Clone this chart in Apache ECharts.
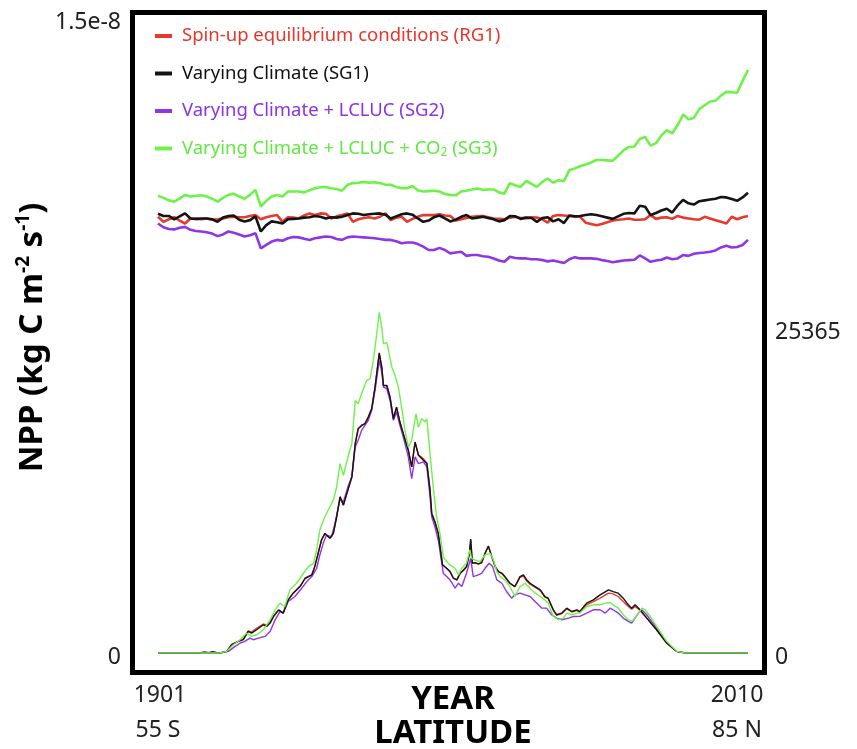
<!DOCTYPE html>
<html><head><meta charset="utf-8">
<script src="https://cdn.jsdelivr.net/npm/echarts@6/dist/echarts.min.js"></script>
<style>html,body{margin:0;padding:0;background:#fff}#c{width:857px;height:749px}</style>
</head><body><div id="c"></div>
<script>
const FONT = 'Noto Sans';
const names = ['Spin-up equilibrium conditions (RG1)','Varying Climate (SG1)','Varying Climate + LCLUC (SG2)','Varying Climate + LCLUC + CO2 (SG3)'];
const colors = ['#e63a2e','#141414','#8f36e3','#6ef24a'];
const textColors = ['#e8352b','#111111','#8c33e0','#62e840'];

// Time series, NPP in units of 1e-9 kg C m-2 s-1, 1901..2010
const years = Array.from({length:110},(_,i)=>1901+i);
const yearTicks = [1901, 2010];
const rg1Year = [10.37,10.25,10.31,10.36,10.28,10.21,10.33,10.32,10.31,10.33,
10.30,10.31,10.33,10.36,10.37,10.36,10.36,10.39,10.41,10.31,
10.36,10.39,10.41,10.25,10.36,10.35,10.33,10.40,10.45,10.41,
10.45,10.44,10.33,10.38,10.41,10.45,10.25,10.31,10.34,10.36,
10.33,10.37,10.45,10.29,10.35,10.37,10.25,10.32,10.37,10.41,
10.41,10.41,10.43,10.40,10.39,10.28,10.31,10.34,10.37,10.38,
10.39,10.36,10.33,10.32,10.31,10.35,10.37,10.34,10.34,10.36,
10.35,10.31,10.23,10.39,10.41,10.40,10.39,10.38,10.37,10.23,
10.20,10.17,10.20,10.24,10.28,10.30,10.31,10.33,10.30,10.30,
10.31,10.41,10.32,10.35,10.36,10.32,10.39,10.35,10.33,10.31,
10.30,10.37,10.33,10.29,10.25,10.21,10.37,10.31,10.36,10.39];
const sg1Year = [10.44,10.39,10.39,10.31,10.38,10.45,10.33,10.32,10.33,10.33,
10.31,10.25,10.35,10.39,10.40,10.30,10.26,10.29,10.38,10.02,
10.17,10.26,10.24,10.21,10.31,10.32,10.33,10.35,10.36,10.39,
10.37,10.33,10.36,10.35,10.37,10.41,10.45,10.44,10.41,10.43,
10.44,10.45,10.42,10.33,10.38,10.43,10.45,10.42,10.33,10.25,
10.28,10.36,10.40,10.33,10.26,10.30,10.37,10.41,10.33,10.35,
10.37,10.34,10.31,10.26,10.29,10.39,10.38,10.32,10.35,10.34,
10.25,10.34,10.36,10.26,10.31,10.22,10.40,10.38,10.39,10.41,
10.43,10.41,10.38,10.35,10.32,10.38,10.44,10.46,10.45,10.63,
10.61,10.41,10.46,10.52,10.56,10.47,10.64,10.77,10.69,10.66,
10.74,10.76,10.78,10.80,10.84,10.83,10.79,10.75,10.83,10.94];
const sg2Year = [10.21,10.12,10.08,10.07,10.11,10.13,10.06,10.03,10.02,10.00,
9.97,9.91,9.95,10.02,9.99,9.95,9.90,9.93,9.98,9.62,
9.70,9.78,9.82,9.80,9.86,9.89,9.88,9.85,9.82,9.86,
9.88,9.90,9.89,9.84,9.82,9.88,9.90,9.89,9.88,9.87,
9.86,9.84,9.82,9.82,9.79,9.74,9.76,9.76,9.72,9.66,
9.58,9.58,9.63,9.58,9.50,9.52,9.54,9.44,9.46,9.46,
9.43,9.42,9.38,9.33,9.30,9.42,9.39,9.38,9.38,9.36,
9.36,9.34,9.31,9.33,9.30,9.27,9.36,9.41,9.38,9.38,
9.38,9.37,9.34,9.32,9.29,9.31,9.33,9.34,9.35,9.45,
9.38,9.30,9.33,9.35,9.40,9.36,9.38,9.46,9.44,9.49,
9.51,9.52,9.54,9.57,9.64,9.68,9.64,9.65,9.70,9.82];
const sg3Year = [10.87,10.82,10.76,10.73,10.80,10.89,10.85,10.87,10.88,10.85,
10.80,10.73,10.82,10.89,10.92,10.85,10.80,10.89,11.01,10.61,
10.75,10.85,10.89,10.85,10.97,10.97,10.97,10.95,11.00,11.05,
11.07,11.08,11.05,11.03,10.99,11.13,11.17,11.18,11.20,11.18,
11.19,11.17,11.13,11.13,11.08,11.05,11.05,11.10,11.00,10.97,
10.98,10.99,10.97,10.91,10.89,10.88,10.97,10.99,11.02,11.04,
11.01,11.02,11.02,10.95,10.92,11.17,11.12,11.08,11.22,11.15,
11.08,11.20,11.28,11.18,11.24,11.22,11.48,11.52,11.57,11.61,
11.66,11.72,11.72,11.71,11.70,11.82,11.95,12.03,12.04,12.22,
12.27,12.06,12.12,12.30,12.43,12.35,12.55,12.80,12.69,12.72,
12.93,13.02,13.11,13.13,13.25,13.34,13.33,13.32,13.60,13.86];
const nppTicks = [0, 1.5e-8];

// Latitude profiles: [latitude (deg, S negative), value]
const latTicks = [-55, 85];
const rightTicks = [0, 25365];
const rightMax = 50000;
const rg1Lat = [[-55,0],[-40.3,0],[-38.7,140],[-37.5,680],[-35.9,950],[-34.75,1100],[-33.6,1750],[-32.8,1650],[-31.6,1950],[-30.0,2300],[-29.2,2200],[-28.4,2420],[-27.6,2900],[-26.4,3400],[-25.3,3180],[-24.1,4200],[-22.9,4760],[-21.3,5280],[-20.1,5900],[-19.3,6070],[-18.5,6200],[-17.8,6860],[-17.0,7900],[-16.2,8960],[-15.4,9470],[-14.2,9100],[-13.4,9470],[-12.6,10800],[-11.8,12370],[-11.0,11720],[-10.2,12640],[-9.0,13950],[-8.2,16580],[-7.5,17760],[-6.7,18030],[-5.9,18160],[-5.1,18690],[-4.3,19340],[-3.5,21050],[-2.5,23700],[-1.9,22640],[-1.5,21190],[-0.7,21190],[0.06,20270],[0.85,18560],[1.6,19480],[2.4,18300],[3.2,17380],[4.4,16060],[5.2,14760],[6.0,16700],[6.8,15700],[7.97,15400],[8.8,15050],[9.55,12900],[9.95,11060],[10.7,10400],[11.5,9480],[12.5,7000],[13.5,6700],[14.3,6440],[15.1,5920],[15.9,5790],[16.7,6300],[17.5,6560],[18.2,6830],[18.9,7850],[19.2,8950],[19.6,7100],[20.2,7150],[21.0,7040],[21.8,7150],[22.6,7880],[23.4,8450],[23.8,8350],[24.2,7620],[25.0,6830],[25.8,6440],[26.6,6300],[27.3,6040],[28.5,5520],[29.7,5250],[30.9,6000],[31.7,6100],[32.5,5700],[33.3,5450],[34.5,5200],[35.7,4950],[36.8,4430],[37.6,4300],[38.8,3380],[39.6,2990],[40.8,3120],[42.0,3500],[43.2,3250],[44.4,3380],[45.1,3213],[46.7,3818],[48.3,4080],[49.9,4345],[51.9,4740],[53.0,4687],[54.2,4477],[55.4,4082],[56.6,3687],[57.4,3476],[58.2,3687],[59.4,3371],[61.0,2740],[63.3,1830],[65.7,780],[68.1,120],[70.1,0],[85,0]];
const sg1Lat = [[-55,0],[-45,0],[-44,90],[-43,30],[-42,110],[-41,20],[-40.3,0],[-38.7,131],[-37.5,658],[-35.9,921],[-34.75,1053],[-33.6,1711],[-32.8,1579],[-31.6,1843],[-30.0,2237],[-29.2,2105],[-28.4,2369],[-27.6,2895],[-26.4,3422],[-25.3,3159],[-24.1,4212],[-22.9,4739],[-21.3,5265],[-20.1,5923],[-19.3,6055],[-18.5,6187],[-17.8,6845],[-17.0,7898],[-16.2,8951],[-15.4,9478],[-14.2,9085],[-13.4,9480],[-12.6,10796],[-11.8,12376],[-11.0,11718],[-10.2,12639],[-9.0,13955],[-8.2,16588],[-7.5,17773],[-6.7,18036],[-5.9,18169],[-5.1,18695],[-4.3,19353],[-3.5,21064],[-2.5,23777],[-1.9,22645],[-1.5,21196],[-0.7,21196],[0.06,20275],[0.85,18563],[1.6,19485],[2.4,18300],[3.2,17379],[4.4,16062],[5.2,14746],[6.0,16720],[6.8,15667],[7.97,15273],[8.8,15010],[9.55,12903],[9.95,11060],[10.7,10402],[11.5,9480],[12.5,7000],[13.5,6714],[14.3,6451],[15.1,5924],[15.9,5792],[16.7,6319],[17.5,6583],[18.2,6846],[18.9,7899],[19.2,9031],[19.6,7109],[20.2,7162],[21.0,7056],[21.8,7162],[22.6,7899],[23.4,8478],[23.8,8373],[24.2,7636],[25.0,6846],[25.8,6451],[26.6,6319],[27.3,6056],[28.5,5529],[29.7,5266],[30.9,6056],[31.7,6187],[32.5,5792],[33.3,5529],[34.5,5266],[35.7,5002],[36.8,4476],[37.6,4344],[38.8,3423],[39.6,3028],[40.8,3160],[42.0,3555],[43.2,3291],[44.4,3423],[45.1,3286],[46.7,3950],[48.3,4211],[49.9,4606],[51.9,5000],[53.0,4866],[54.2,4740],[55.4,4345],[56.6,3816],[57.4,3555],[58.2,3816],[59.4,3421],[61.0,2765],[63.3,1841],[65.7,790],[68.1,126],[70.1,0],[85,0]];
const sg2Lat = [[-55,0],[-40.3,0],[-38.3,131],[-36.7,526],[-35.5,790],[-34.4,921],[-33.2,1184],[-32.4,1053],[-31.2,1184],[-29.6,1316],[-28.4,1711],[-27.2,2632],[-26.05,3291],[-25.3,3159],[-24.1,4080],[-22.5,4475],[-20.9,5133],[-19.7,5660],[-18.5,6055],[-17.35,6713],[-16.6,7766],[-15.8,8688],[-15.0,9346],[-13.8,9215],[-13.0,10268],[-12.2,11584],[-11.8,12200],[-11.0,11981],[-9.8,13297],[-9.0,13955],[-8.2,16325],[-7.5,16852],[-6.7,17642],[-5.9,18036],[-5.1,18432],[-4.3,19222],[-3.5,20802],[-2.5,23172],[-1.9,22250],[-1.5,21065],[-0.7,20933],[0.06,20012],[0.85,18432],[1.6,19090],[2.4,18037],[3.2,17116],[4.4,15536],[5.2,13824],[6.0,15536],[6.8,15010],[7.97,15141],[8.8,14746],[9.55,12376],[9.95,10796],[10.7,10006],[11.5,8953],[12.7,6321],[13.5,6058],[14.3,5792],[15.5,5134],[16.3,5529],[17.1,5266],[18.2,6319],[19.2,7504],[19.8,6056],[21.0,6187],[21.8,6319],[22.6,6714],[23.6,7109],[24.4,6846],[25.4,5792],[26.6,5529],[27.7,4871],[28.9,4344],[29.7,4607],[30.9,4739],[32.1,4607],[33.3,4476],[34.9,3950],[36.1,3555],[37.2,3555],[38.4,3028],[39.6,2765],[40.8,2633],[42.4,2765],[43.6,2897],[45.1,2900],[46.7,3160],[48.3,3424],[49.9,3424],[51.1,3160],[52.3,3555],[53.0,3424],[54.2,3160],[55.4,2765],[56.6,2502],[57.4,2370],[58.2,2765],[59.0,3160],[59.8,3424],[60.96,3029],[63.3,1975],[65.7,790],[68.1,132],[70.1,0],[85,0]];
const sg3Lat = [[-55,0],[-40.3,0],[-38.7,131],[-37.1,658],[-35.5,1053],[-34.0,1579],[-32.8,1316],[-31.6,1448],[-30.0,1843],[-28.4,2632],[-27.2,3422],[-26.05,3949],[-24.9,3686],[-23.7,5002],[-22.1,5528],[-20.5,6318],[-19.3,6845],[-18.1,7108],[-17.35,8161],[-16.6,9741],[-15.4,10795],[-14.2,11586],[-13.4,12113],[-12.6,13166],[-11.8,15009],[-11.0,14087],[-9.8,15667],[-9.0,16589],[-8.2,20012],[-7.5,19749],[-6.7,20539],[-5.5,21592],[-4.7,21724],[-3.9,23172],[-3.1,25278],[-2.5,26990],[-1.9,25805],[-1.5,24488],[-0.7,24620],[0.5,22645],[1.25,21987],[2.05,21065],[2.8,19485],[3.6,17642],[4.4,16326],[5.2,16852],[6.2,18958],[6.8,17906],[7.6,18563],[8.4,18300],[8.8,18563],[9.55,15798],[10.3,13166],[11.1,10796],[11.9,9480],[12.7,7637],[13.5,7241],[14.3,6977],[15.5,6714],[16.3,6187],[17.1,6714],[18.2,7109],[19.0,8162],[19.4,7504],[20.2,7372],[21.4,7241],[22.6,7767],[23.8,7899],[24.6,7372],[25.4,6451],[26.2,6056],[27.3,5792],[28.5,5266],[29.7,4476],[30.9,5266],[32.1,5529],[33.3,5134],[34.5,4739],[35.7,4476],[36.8,4213],[37.6,3950],[38.8,2897],[40.0,2633],[41.2,2765],[42.0,3160],[43.2,3028],[44.4,3160],[45.1,3160],[46.7,3687],[48.3,3818],[49.9,3818],[51.1,3950],[52.3,4003],[53.0,3818],[54.2,3555],[55.4,3029],[56.6,2634],[57.4,2502],[58.2,2765],[59.0,3160],[59.8,3555],[60.6,3424],[61.8,2897],[63.3,2107],[65.7,922],[68.1,132],[70.1,0],[85,0]];

const yearSeries = [rg1Year, sg1Year, sg2Year, sg3Year];
const latSeries = [rg1Lat, sg1Lat, sg2Lat, sg3Lat];
const zYear = [2, 5, 3, 4];
const zLat = [2, 4, 3, 5];

const series = [];
yearSeries.forEach((vals, k) => {
  series.push({
    name: names[k], type: 'line', xAxisIndex: 0, yAxisIndex: 0,
    data: vals.map((v, i) => [years[i], v * 1e-9]),
    symbol: 'none', z: zYear[k],
    lineStyle: {color: colors[k], width: 2.6},
    itemStyle: {color: colors[k]}
  });
});
latSeries.forEach((pts, k) => {
  series.push({
    name: names[k], type: 'line', xAxisIndex: 1, yAxisIndex: 1,
    data: pts, symbol: 'none', z: zLat[k],
    lineStyle: {color: colors[k], width: 1.4},
    itemStyle: {color: colors[k]}
  });
});

const TICK = 23, TC = '#222';
const subStyle = c => ({fontSize: 12, color: c, verticalAlign: 'bottom', lineHeight: 12, padding: [7,0,0,0], fontFamily: FONT});
const tickRich = {
  l: {fontSize: TICK, color: TC, fontFamily: FONT, padding: [0,0,0,4]},
  r: {fontSize: TICK, color: TC, fontFamily: FONT, padding: [0,22,0,0]},
  z: {fontSize: TICK, color: TC, fontFamily: FONT, padding: [9,0,0,0]},
  n: {fontSize: TICK, color: TC, fontFamily: FONT}
};
const option = {
  animation: false,
  backgroundColor: '#fff',
  textStyle: {fontFamily: FONT},
  grid: {left: 158, right: 109, top: 22, bottom: 96, containLabel: false, outerBoundsMode: 'none'},
  graphic: [{
    type: 'rect', z: 10, silent: true,
    shape: {x: 132.5, y: 12.5, width: 632, height: 660},
    style: {fill: 'none', stroke: '#000', lineWidth: 5}
  }],
  legend: {
    orient: 'vertical', left: 150, top: 21, icon: 'rect',
    itemWidth: 17, itemHeight: 4, itemGap: 17.5,
    selectedMode: false,
    textStyle: {fontSize: 18.5, lineHeight: 20, fontFamily: FONT, padding: [0,0,0,5], rich: {sub: subStyle('#000')}},
    formatter: n => n === names[3] ? 'Varying Climate + LCLUC + CO{sub|2} (SG3)' : n,
    data: names.map((n, k) => ({name: n, textStyle: {color: textColors[k], rich: {sub: subStyle(textColors[k])}}}))
  },
  xAxis: [{
    type: 'value', min: yearTicks[0], max: yearTicks[1], interval: yearTicks[1] - yearTicks[0],
    position: 'bottom',
    axisLine: {show: false}, axisTick: {show: false}, splitLine: {show: false},
    axisLabel: {margin: 31, fontSize: TICK, color: TC, fontFamily: FONT,
      formatter: v => v === yearTicks[1] ? '{r|' + v + '}' : '{l|' + v + '}', rich: tickRich},
    name: 'YEAR', nameLocation: 'middle', nameGap: 30, nameMoveOverlap: false,
    nameTextStyle: {fontSize: 33, fontWeight: 'bold', color: '#000', fontFamily: FONT}
  }, {
    type: 'value', min: latTicks[0], max: latTicks[1], interval: latTicks[1] - latTicks[0],
    position: 'bottom',
    axisLine: {show: false}, axisTick: {show: false}, splitLine: {show: false},
    axisLabel: {margin: 66, fontSize: TICK, color: TC, fontFamily: FONT,
      formatter: v => v < 0 ? '{n|' + (-v) + ' S}' : '{r|' + v + ' N}', rich: tickRich},
    name: 'LATITUDE', nameLocation: 'middle', nameGap: 64, nameMoveOverlap: false,
    nameTextStyle: {fontSize: 33, fontWeight: 'bold', color: '#000', fontFamily: FONT}
  }],
  yAxis: [{
    type: 'value', min: nppTicks[0], max: nppTicks[1], interval: nppTicks[1] - nppTicks[0],
    position: 'left',
    axisLine: {show: false}, axisTick: {show: false}, splitLine: {show: false},
    axisLabel: {margin: 37, fontSize: TICK, color: TC, fontFamily: FONT,
      formatter: v => v === 0 ? '{z|0}' : '{n|1.5e-8}', rich: tickRich},
    name: '{a|NPP (kg C m}{s|-2}{a| s}{s|-1}{a|)}', nameLocation: 'middle', nameRotate: 90, nameGap: 106, nameMoveOverlap: false,
    nameTextStyle: {fontFamily: FONT, color: '#000',
      rich: {a: {fontSize: 33, fontWeight: 'bold', color: '#000', lineHeight: 38, fontFamily: FONT},
             s: {fontSize: 19, fontWeight: 'bold', color: '#000', lineHeight: 38, verticalAlign: 'top', padding: [0,0,14,0], fontFamily: FONT}}}
  }, {
    type: 'value', min: rightTicks[0], max: rightMax, interval: rightTicks[1],
    position: 'right',
    axisLine: {show: false}, axisTick: {show: false}, splitLine: {show: false},
    axisLabel: {margin: 27, fontSize: TICK, color: TC, fontFamily: FONT, showMaxLabel: false,
      formatter: v => v === 0 ? '{z|0}' : (v === rightTicks[1] ? '{n|' + v + '}' : ''), rich: tickRich}
  }],
  series
};
const chart = echarts.init(document.getElementById('c'));
chart.setOption(option);
</script></body></html>
